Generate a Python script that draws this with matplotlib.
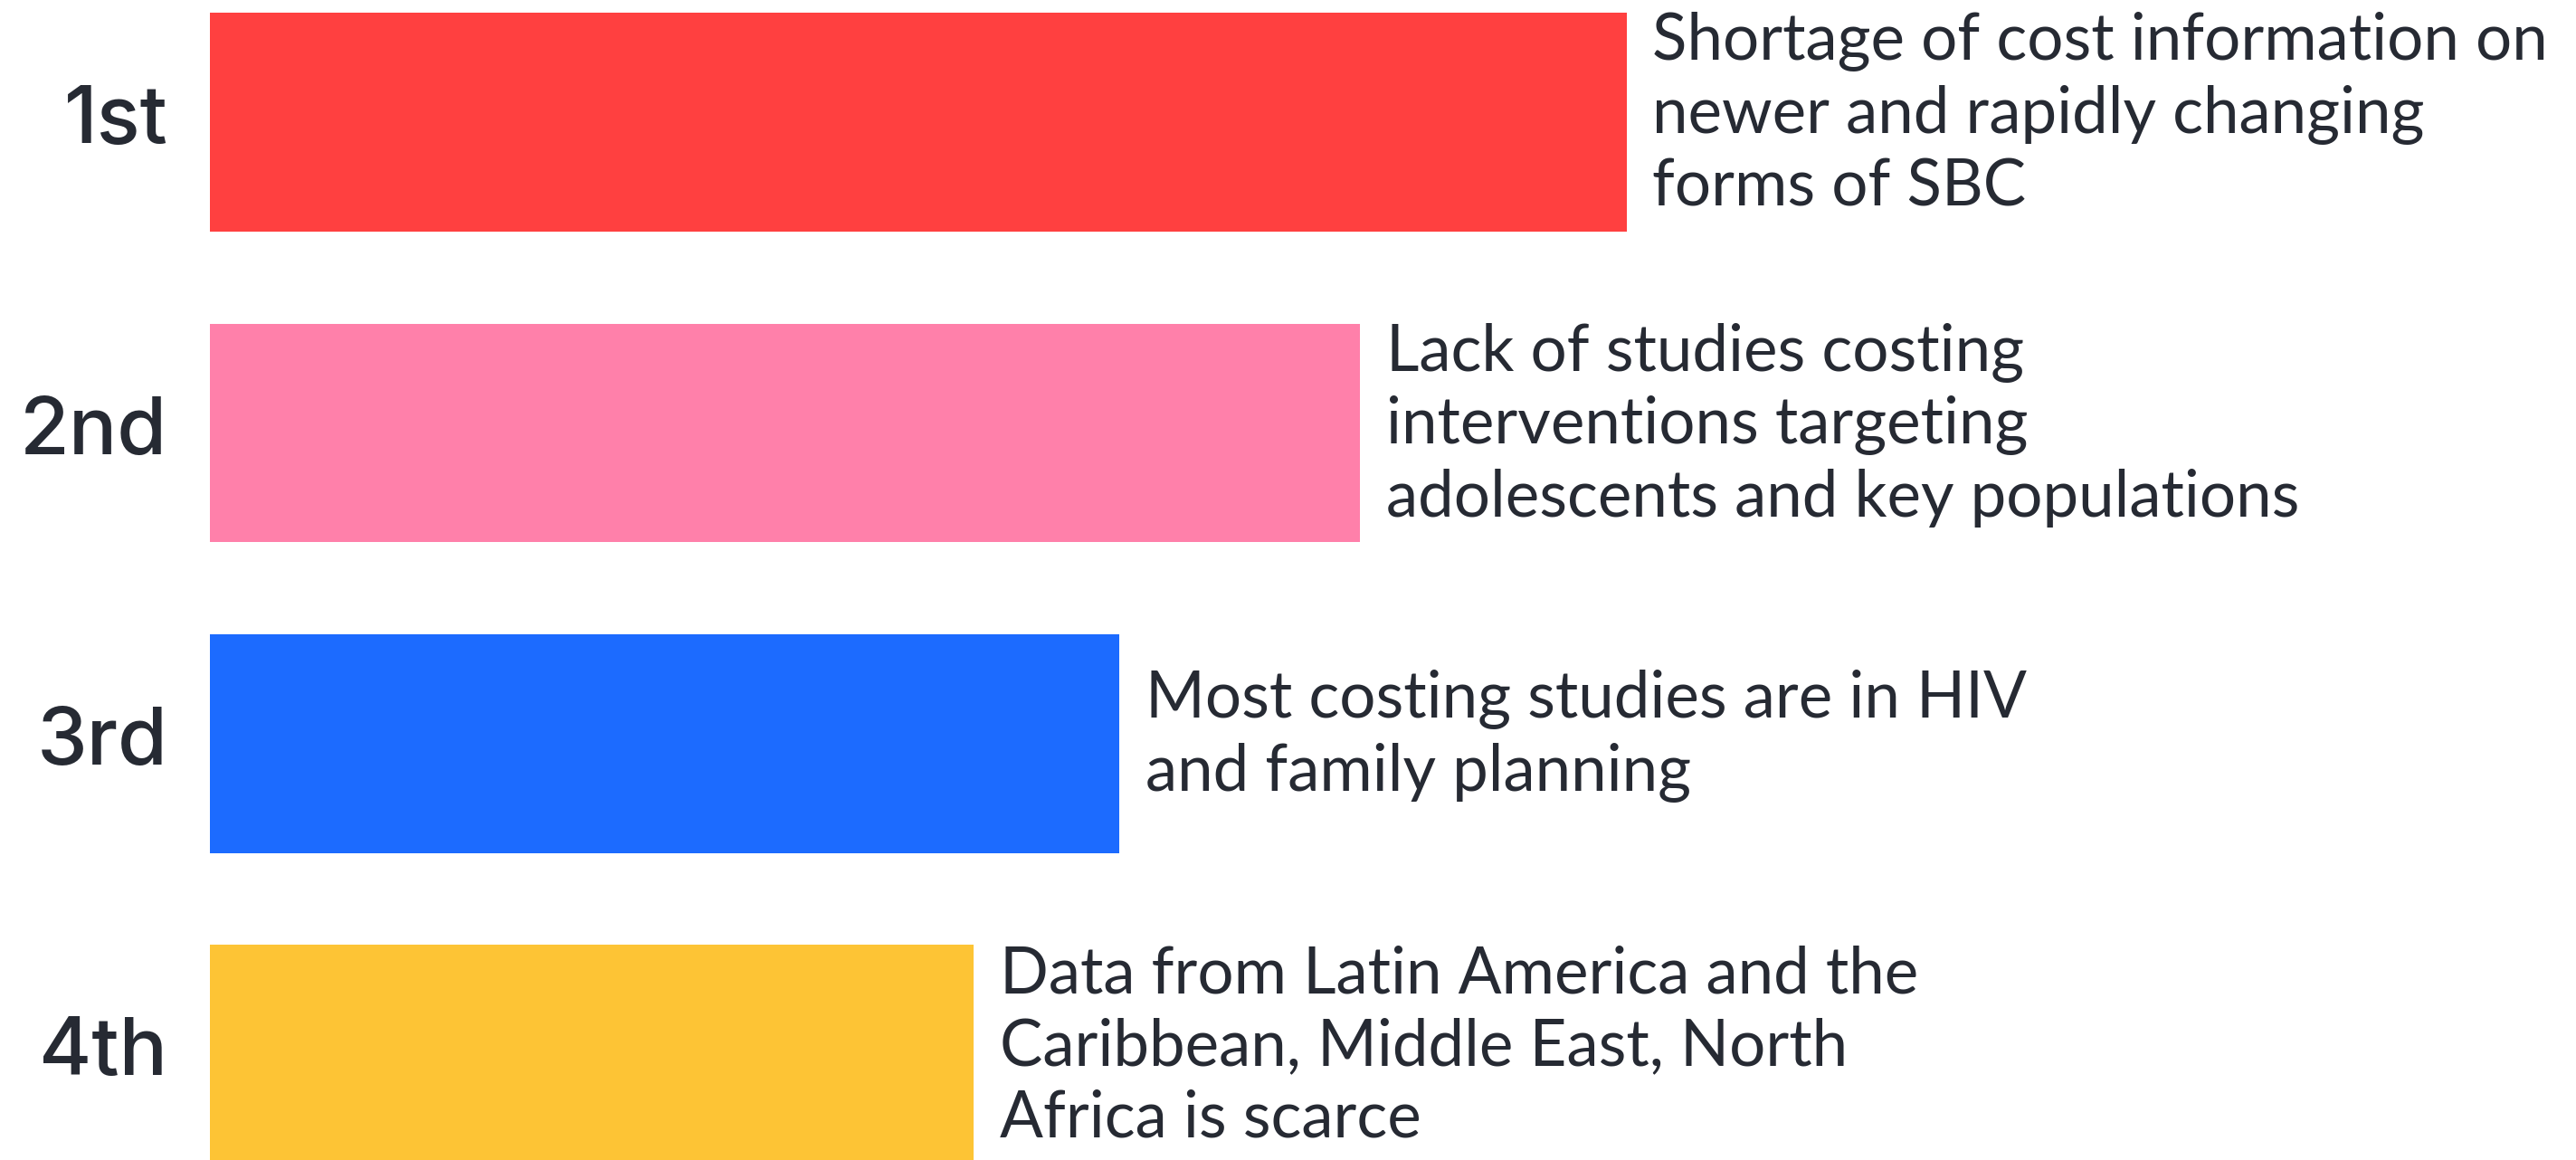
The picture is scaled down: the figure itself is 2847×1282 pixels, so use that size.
import matplotlib
matplotlib.use("Agg")
import matplotlib.pyplot as plt

# data (bar lengths, arbitrary units)
ranks = ["1st", "2nd", "3rd", "4th"]
values = [100, 81.2, 64.2, 53.9]
notes = [
    "Shortage of cost information on\nnewer and rapidly changing\nforms of SBC",
    "Lack of studies costing\ninterventions targeting\nadolescents and key populations",
    "Most costing studies are in HIV\nand family planning",
    "Data from Latin America and the\nCaribbean, Middle East, North\nAfrica is scarce",
]
colors = ["#FF4040", "#FF80AA", "#1C6BFF", "#FDC435"]

TXT = "#262a33"

fig = plt.figure(figsize=(28.47, 12.82), dpi=100)
ax = fig.add_axes([0.0816, 0, 0.9184, 1])

y = list(range(len(ranks)))
ax.barh(y, values, height=0.704, color=colors)

ax.set_xlim(0, 167.05)
ax.set_ylim(3.341, -0.394)
ax.axis("off")

for i in y:
    ax.text(-3.0, i, ranks[i], ha="right", va="center", fontsize=64,
            family="Inter", weight="medium", color=TXT)
    ax.text(values[i] + 1.85, i - 0.025, notes[i], ha="left", va="center",
            fontsize=51, family="Lato", color=TXT, linespacing=1.28)

fig.savefig("out.png", dpi=100, facecolor="white")
